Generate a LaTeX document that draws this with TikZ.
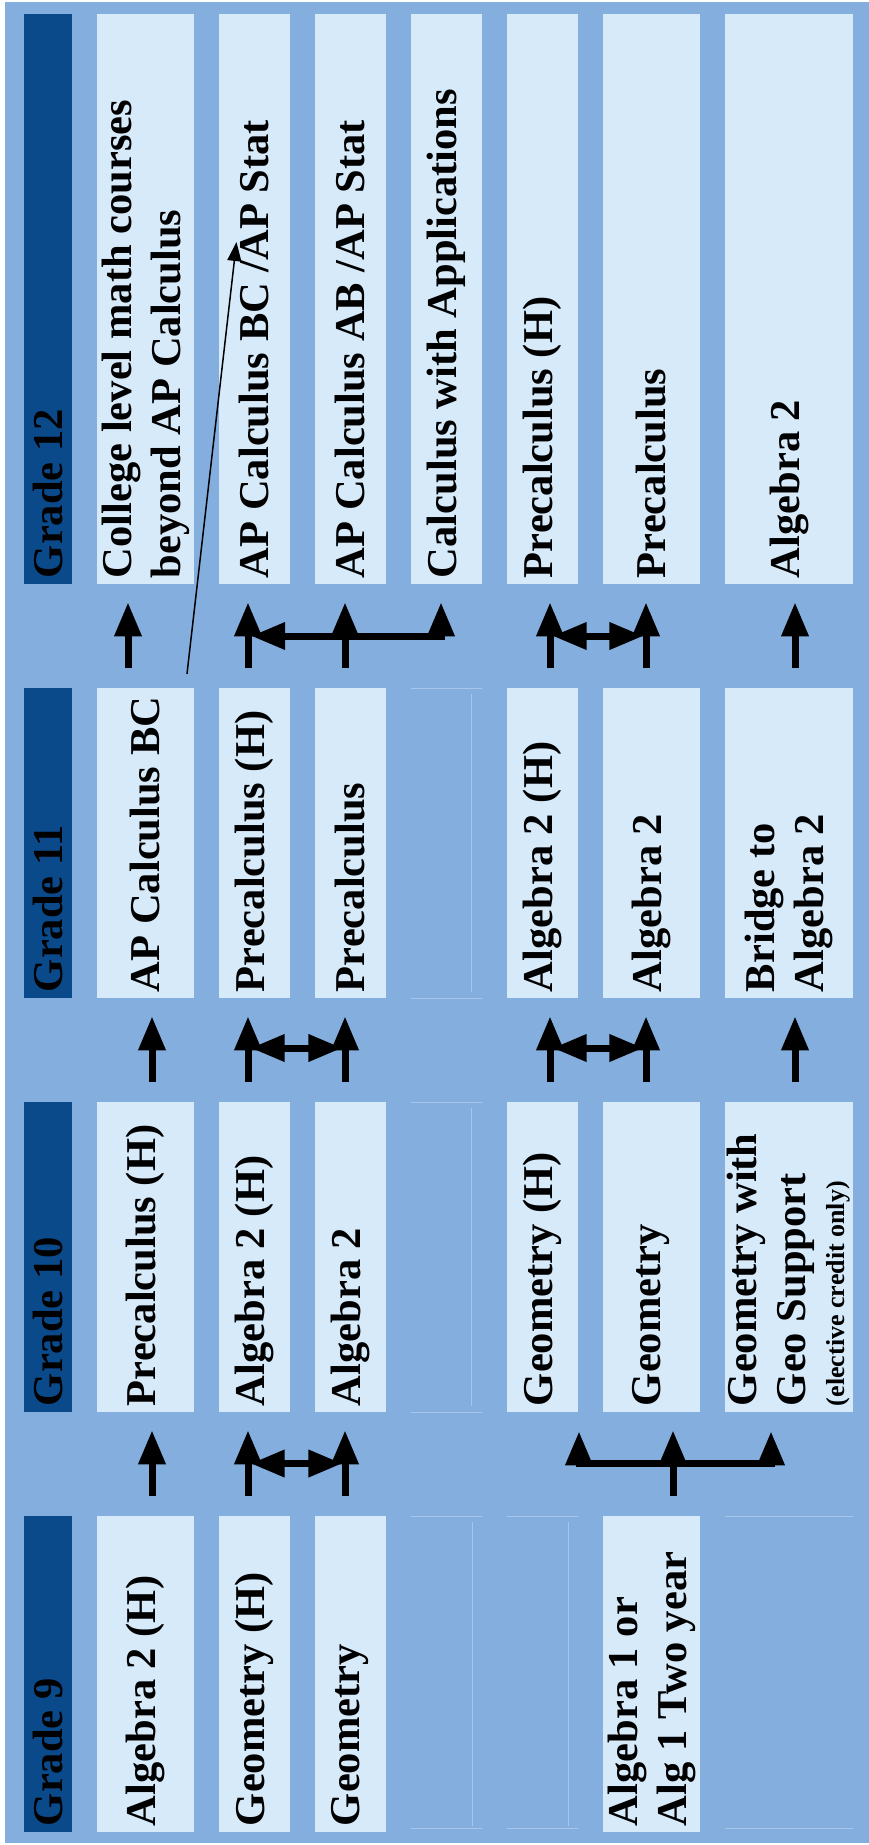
\documentclass[tikz,border=0pt]{standalone}
\usepackage{fontspec}
\setmainfont{Liberation Serif}
\usepackage{tikz}
\usetikzlibrary{positioning, calc, arrows, arrows.meta}
\tikzset{>=triangle 45}
\definecolor{bgblue}{HTML}{84AEDE}
\definecolor{boxblue}{HTML}{D6EAFA}
\definecolor{hdrblue}{HTML}{0B4A8A}
\definecolor{lineblue}{HTML}{A6C6EC}
\newcommand{\coursefont}{\fontsize{42.5}{49}\selectfont\bfseries}
\newcommand{\notefont}{\fontsize{26}{30}\selectfont\bfseries}

\begin{document}
\begin{tikzpicture}
    [x=1pt, y=-1pt,
     course/.style={rotate=90, fill=boxblue, inner xsep=6pt, inner ysep=0pt, align=flush left, font=\coursefont},
     grade/.style={course, fill=hdrblue, minimum height=48pt},
     top row/.style={text width=558pt},
     mid row/.style={text width=298pt},
     low row/.style={text width=304pt},
     wide/.style={minimum height=97pt},
     narrow/.style={minimum height=71pt},
     widest/.style={minimum height=128pt},
     link/.style={->, line width=7pt, shorten <=20pt, shorten >=19pt},
     bar/.style={line width=7pt},
     thin link/.style={-{Triangle[length=19pt, width=14pt]}, line width=1.5pt},
     faint/.style={draw=lineblue, line width=1pt}]
    \useasboundingbox (0,0) rectangle (869,1845);
    \fill[bgblue] (5,2) rectangle (869,1843);

    % Grade 12
    \node[grade, top row] (g12) at (48,299) {Grade 12};
    \node[course, top row, wide] (g12a) at (145.5,299) {College level math courses\\beyond AP Calculus};
    \node[course, top row, narrow] (g12b) at (254.5,299) {AP Calculus BC /AP Stat};
    \node[course, top row, narrow] (g12c) at (350,299) {AP Calculus AB /AP Stat};
    \node[course, top row, narrow] (g12d) at (446.5,299) {Calculus with Applications};
    \node[course, top row, narrow] (g12e) at (542.5,299) {Precalculus (H)};
    \node[course, top row, wide] (g12f) at (651.5,299) {Precalculus};
    \node[course, top row, widest] (g12g) at (789,299) {Algebra 2};

    % Grade 11
    \node[grade, mid row] (g11) at (48,843) {Grade 11};
    \node[course, mid row, wide] (g11a) at (145.5,843) {AP Calculus~BC};
    \node[course, mid row, narrow] (g11b) at (254.5,843) {Precalculus (H)};
    \node[course, mid row, narrow] (g11c) at (350,843) {Precalculus};
    \node[course, mid row, narrow] (g11e) at (542.5,843) {Algebra 2 (H)};
    \node[course, mid row, wide] (g11f) at (651.5,843) {Algebra 2};
    \node[course, mid row, widest] (g11g) at (789,843) {Bridge to\\Algebra 2};

    % Grade 10
    \node[grade, mid row] (g10) at (48,1257) {Grade 10};
    \node[course, mid row, wide] (g10a) at (145.5,1257) {Precalculus (H)};
    \node[course, mid row, narrow] (g10b) at (254.5,1257) {Algebra 2 (H)};
    \node[course, mid row, narrow] (g10c) at (350,1257) {Algebra 2};
    \node[course, mid row, narrow] (g10e) at (542.5,1257) {Geometry (H)};
    \node[course, mid row, wide] (g10f) at (651.5,1257) {Geometry};
    \node[course, mid row, widest] (g10g) at (789,1257)
      {Geometry with\\Geo Support\\[-10pt]{\notefont (elective credit only)}};

    % Grade 9
    \node[grade, low row] (g9) at (48,1674) {Grade 9};
    \node[course, low row, wide] (g9a) at (145.5,1674) {Algebra 2 (H)};
    \node[course, low row, narrow] (g9b) at (254.5,1674) {Geometry (H)};
    \node[course, low row, narrow] (g9c) at (350,1674) {Geometry};
    \node[course, low row, wide] (g9f) at (651.5,1674) {Algebra 1 or\\Alg 1 Two year};

    % empty cells
    \draw[faint] (411,688) -- (482,688) (411,998) -- (482,998) (471,694) -- (471,992);
    \draw[faint] (411,1102) -- (482,1102) (411,1412) -- (482,1412) (471,1108) -- (471,1406);
    \draw[faint] (411,1516) -- (482,1516) (411,1828) -- (482,1828) (472,1522) -- (472,1826);
    \draw[faint] (507,1516) -- (578,1516) (507,1828) -- (578,1828) (568,1522) -- (568,1826);
    \draw[faint] (725,1516) -- (853,1516) (725,1828) -- (853,1828);

    \coordinate (row12) at (0,636);
    \coordinate (row11) at (0,1048);
    \coordinate (row10) at (0,1463.5);

    % Grade 11 -> Grade 12
    \draw[link] ([xshift=-17.5pt]g11a.east) -- ([xshift=-17.5pt]g12a.west);
    \draw[link] ([xshift=-6.5pt]g11b.east) -- ([xshift=-6.5pt]g12b.west);
    \draw[link] ([xshift=-5pt]g11c.east) -- ([xshift=-5pt]g12c.west);
    \draw[bar, <->] ([xshift=-2.5pt]g12b.west |- row12) -- ([xshift=-5.5pt]g12d.west |- row12)
      -- ([xshift=-5.5pt, yshift=-19pt]g12d.west);
    \draw[link] ([xshift=7.5pt]g11e.east) -- ([xshift=7.5pt]g12e.west);
    \draw[link] ([xshift=-5.5pt]g11f.east) -- ([xshift=-5.5pt]g12f.west);
    \draw[bar, <->] ([xshift=11pt]g12e.west |- row12) -- ([xshift=-9pt]g12f.west |- row12);
    \draw[link] ([xshift=6pt]g11g.east) -- ([xshift=6pt]g12g.west);
    \draw[thin link] ([xshift=41.5pt, yshift=14pt]g11a.east) -- ([xshift=-18pt, yshift=57pt]g12b.center);

    % Grade 10 -> Grade 11
    \draw[link] ([xshift=6.5pt]g10a.east) -- ([xshift=6.5pt]g11a.west);
    \draw[link] ([xshift=-6.5pt]g10b.east) -- ([xshift=-6.5pt]g11b.west);
    \draw[link] ([xshift=-5pt]g10c.east) -- ([xshift=-5pt]g11c.west);
    \draw[bar, <->] ([xshift=-3pt]g11b.west |- row11) -- ([xshift=-8.5pt]g11c.west |- row11);
    \draw[link] ([xshift=7.5pt]g10e.east) -- ([xshift=7.5pt]g11e.west);
    \draw[link] ([xshift=-5.5pt]g10f.east) -- ([xshift=-5.5pt]g11f.west);
    \draw[bar, <->] ([xshift=11pt]g11e.west |- row11) -- ([xshift=-9pt]g11f.west |- row11);
    \draw[link] ([xshift=6pt]g10g.east) -- ([xshift=6pt]g11g.west);

    % Grade 9 -> Grade 10
    \draw[link] ([xshift=6.5pt]g9a.east) -- ([xshift=6.5pt]g10a.west);
    \draw[link] ([xshift=-6.5pt]g9b.east) -- ([xshift=-6.5pt]g10b.west);
    \draw[link] ([xshift=-5pt]g9c.east) -- ([xshift=-5pt]g10c.west);
    \draw[bar, <->] ([xshift=-3pt]g10b.west |- row10) -- ([xshift=-8.5pt]g10c.west |- row10);
    \draw[link] ([xshift=21.5pt]g9f.east) -- ([xshift=21.5pt]g10f.west);
    \draw[bar, <->] ([xshift=36.5pt, yshift=-20pt]g10e.west) -- ([xshift=36.5pt]g10e.west |- row10)
      -- ([xshift=-18pt]g10g.west |- row10) -- ([xshift=-18pt, yshift=-20pt]g10g.west);
\end{tikzpicture}
\end{document}
